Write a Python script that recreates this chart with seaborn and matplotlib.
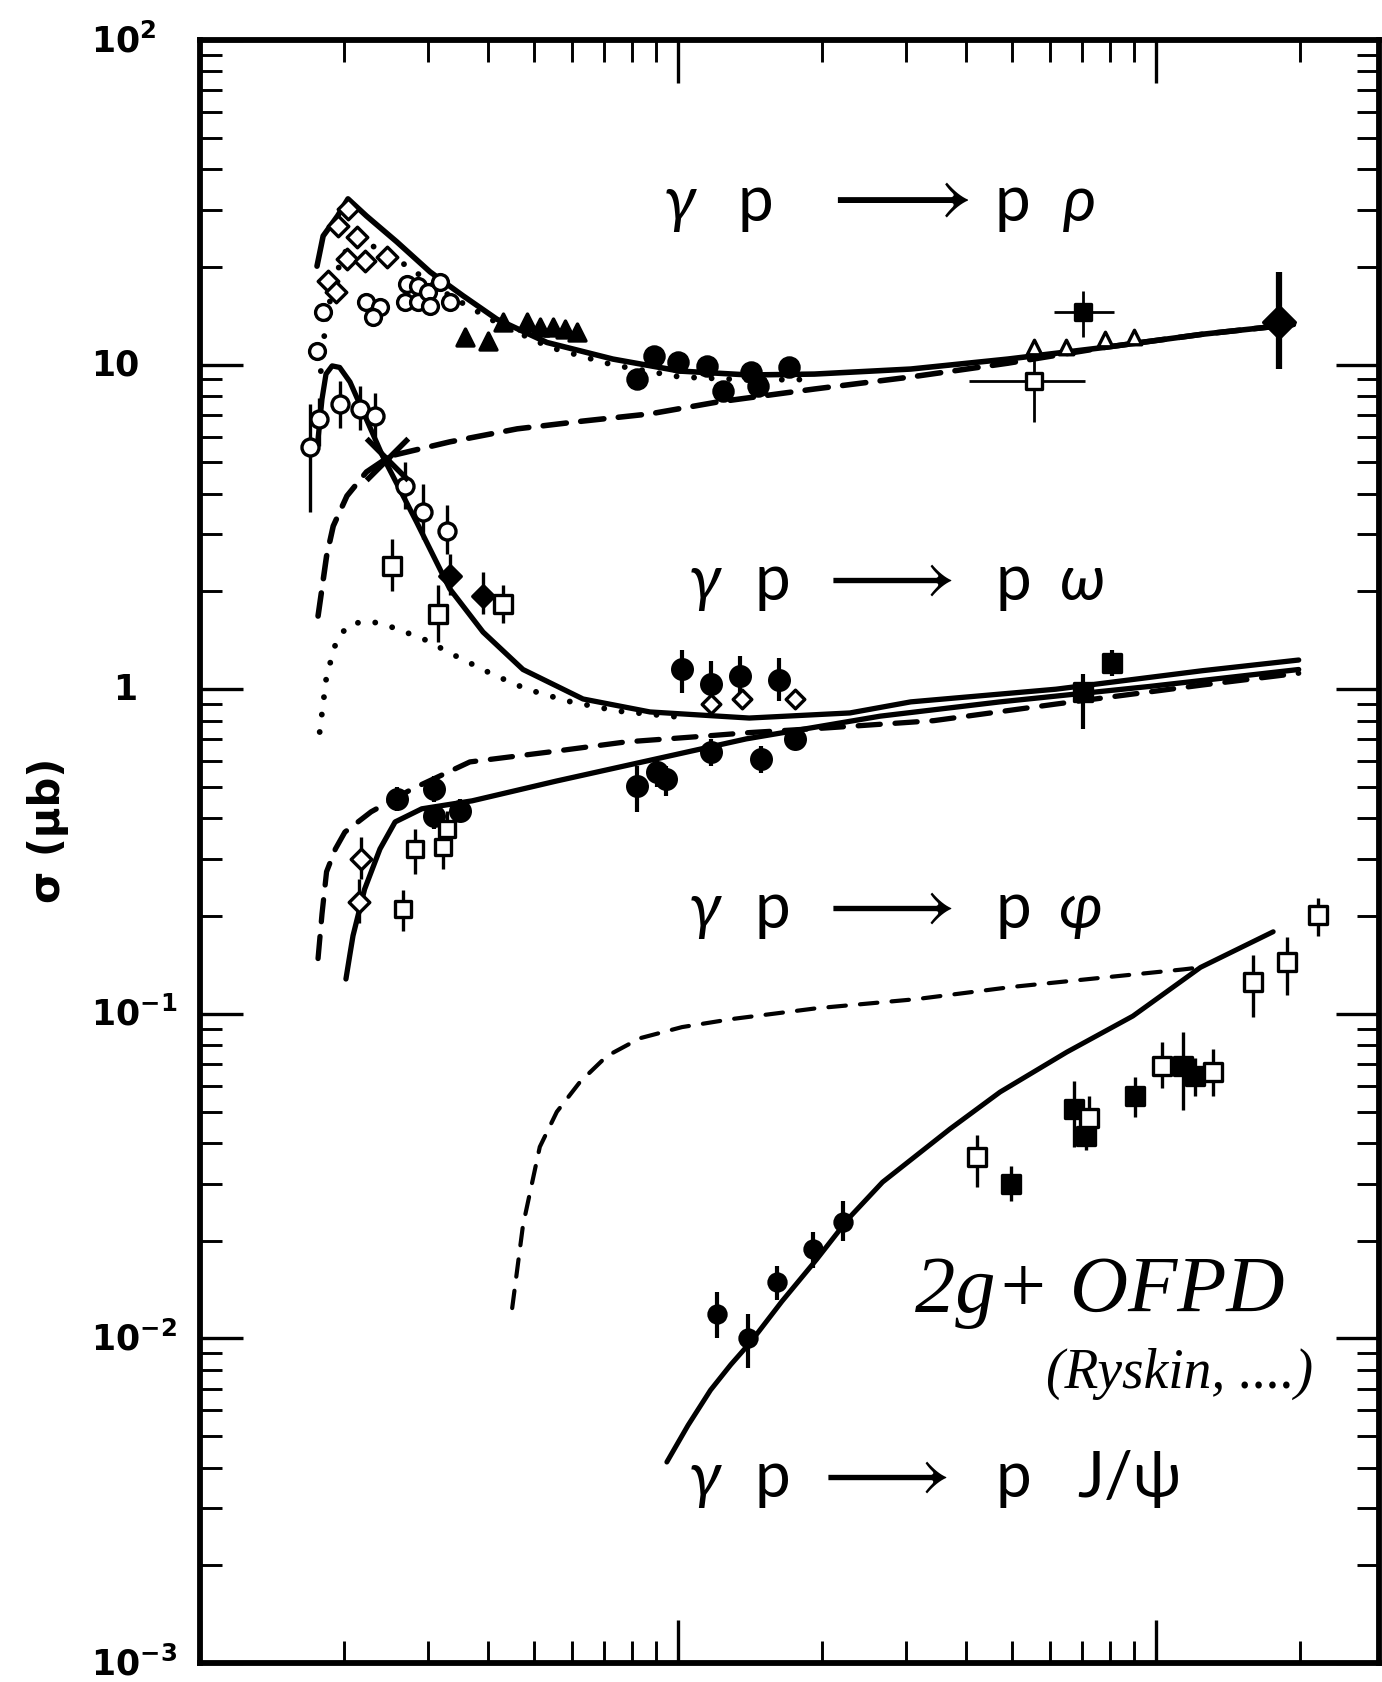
import numpy as np
import matplotlib
matplotlib.use("Agg")
import matplotlib.pyplot as plt
import matplotlib.transforms as mtransforms
from matplotlib.ticker import LogLocator, NullFormatter, FixedLocator
import seaborn as sns

# ---- model curves: W (GeV) vs sigma (microbarn) ----
rho_solid_w = [1.757, 1.81, 1.94, 2.04, 2.23, 2.58, 3.03, 3.55, 4.18, 5.32, 7.31, 10.1, 14.1, 19.3, 30.7, 49.0, 78.2, 125, 194]
rho_solid_s = [20.1, 24.9, 28.7, 32.4, 28.7, 23.9, 19.3, 16.3, 13.8, 11.7, 10.4, 9.55, 9.29, 9.35, 9.69, 10.4, 11.3, 12.4, 13.3]

rho_dot_w = [1.79, 1.826, 1.89, 1.99, 2.16, 2.62, 3.33, 4.24, 5.40, 7.31, 10.1, 14.1, 19.3]
rho_dot_s = [9.55, 12.9, 17.1, 21.9, 24.4, 20.8, 16.3, 13.3, 11.3, 9.98, 9.16, 8.97, 9.0]

rho_dash_w = [1.766, 1.84, 1.90, 2.03, 2.23, 2.50, 3.33, 4.61, 6.33, 8.74, 12.1, 19.3, 30.7, 49.0, 78.2, 125, 194]
rho_dash_s = [1.68, 2.57, 3.18, 3.94, 4.67, 5.23, 5.78, 6.34, 6.70, 7.05, 7.67, 8.41, 9.16, 10.1, 11.3, 12.4, 13.3]

om_solid_w = [1.766, 1.80, 1.835, 1.89, 1.96, 2.06, 2.41, 2.84, 3.33, 3.91, 4.74, 6.33, 8.74, 14.1, 22.9, 30.7, 61.8, 125, 199]
om_solid_s = [5.90, 7.83, 9.35, 9.91, 9.8, 8.84, 5.23, 3.27, 2.04, 1.50, 1.15, 0.933, 0.851, 0.815, 0.845, 0.914, 1.00, 1.14, 1.23]

om_dot_w = [1.78, 1.84, 1.935, 2.06, 2.27, 2.50, 2.93, 3.45, 4.10, 4.83, 5.86, 7.45, 10.1]
om_dot_s = [0.738, 1.10, 1.43, 1.59, 1.62, 1.56, 1.43, 1.26, 1.11, 1.00, 0.920, 0.857, 0.820]

phi_solid_w = [2.02, 2.06, 2.09, 2.21, 2.38, 2.56, 2.91, 3.71, 5.56, 8.05, 13.9, 26.5, 47.2, 97.1, 199]
phi_solid_s = [0.128, 0.153, 0.174, 0.242, 0.322, 0.390, 0.428, 0.453, 0.521, 0.588, 0.703, 0.826, 0.914, 1.02, 1.15]

phi_dash_w = [1.766, 1.80, 1.84, 1.92, 2.01, 2.28, 2.78, 3.67, 5.40, 7.78, 11.1, 14.1, 20.5, 34.3, 61.8, 125, 199]
phi_dash_s = [0.148, 0.203, 0.274, 0.322, 0.363, 0.419, 0.493, 0.597, 0.641, 0.688, 0.715, 0.735, 0.76, 0.80, 0.90, 1.03, 1.12]

jpsi_solid_w = [9.48, 10.5, 11.7, 12.9, 14.2, 16.5, 19.5, 22.8, 26.8, 37.1, 47.2, 65.1, 89.5, 124, 176]
jpsi_solid_s = [0.00416, 0.00540, 0.00693, 0.00830, 0.00975, 0.0130, 0.0175, 0.0235, 0.0303, 0.0442, 0.0574, 0.0762, 0.0984, 0.139, 0.179]

jpsi_dash_w = [4.50, 4.74, 5.14, 5.58, 6.24, 7.10, 8.33, 10.2, 13.0, 19.5, 31.6, 50.0, 114, 124]
jpsi_dash_s = [0.0124, 0.0223, 0.0389, 0.0499, 0.0617, 0.0741, 0.0841, 0.0910, 0.0964, 0.104, 0.111, 0.121, 0.137, 0.139]

# ---- data points ----
rho_od_w = [2.04, 1.94, 2.13, 2.03, 2.21, 2.46, 1.85, 1.93]
rho_od_s = [30.2, 26.7, 24.7, 21.1, 20.8, 21.4, 18.1, 16.7]
rho_oc_w = [2.23, 2.38, 2.30, 2.71, 2.86, 2.69, 2.86, 3.00, 3.03, 3.18, 3.33, 1.81, 1.76]
rho_oc_s = [15.6, 15.0, 14.0, 17.7, 17.5, 15.6, 15.6, 16.7, 15.2, 18.0, 15.6, 14.5, 11.0]
rho_ft_w = [3.58, 4.00, 4.30, 4.83, 5.14, 5.47, 5.80, 6.15]
rho_ft_s = [12.2, 11.8, 13.5, 13.5, 13.1, 13.1, 12.9, 12.6]
rho_fc_w = [8.20, 8.91, 10.0, 11.5, 12.4, 14.2, 14.7, 17.1]
rho_fc_s = [9.04, 10.6, 10.2, 9.9, 8.30, 9.48, 8.59, 9.84]
rho_ot_w = [55.6, 64.8, 78.2, 89.9]
rho_ot_s = [11.3, 11.3, 12.0, 12.2]
rho_fs_w, rho_fs_s = [70.3], [14.5]
rho_fs_xlo, rho_fs_xhi, rho_fs_lo, rho_fs_hi = [61.2], [81.7], [12.2], [16.9]
rho_os_w, rho_os_s = [55.6], [8.91]
rho_os_xlo, rho_os_xhi, rho_os_lo, rho_os_hi = [40.6], [71.0], [6.65], [10.4]
rho_hera_w, rho_hera_s, rho_hera_lo, rho_hera_hi = [181], [13.5], [9.69], [19.3]

om_oc_w = [1.70, 1.77, 1.96, 2.16, 2.32, 2.68, 2.93, 3.29]
om_oc_s = [5.57, 6.79, 7.56, 7.30, 6.95, 4.22, 3.51, 3.07]
om_oc_lo = [3.51, 5.6, 6.4, 6.3, 6.0, 3.6, 2.9, 2.6]
om_oc_hi = [7.56, 7.9, 8.9, 8.6, 8.2, 5.0, 4.3, 3.7]
om_os_w = [2.52, 3.15, 4.30]
om_os_s = [2.40, 1.71, 1.83]
om_os_lo = [2.0, 1.4, 1.6]
om_os_hi = [2.9, 2.1, 2.1]
om_fc_w = [3.33, 3.91]
om_fc_s = [2.23, 1.94]
om_fc_lo = [1.95, 1.7]
om_fc_hi = [2.6, 2.3]
om_x_w, om_x_s = [2.46], [5.12]
om_he_w = [10.2, 11.7, 13.5, 16.3]
om_he_s = [1.15, 1.04, 1.10, 1.07]
om_he_lo = [0.97, 0.88, 0.95, 0.92]
om_he_hi = [1.32, 1.22, 1.27, 1.25]
om_od_w = [11.7, 13.6, 17.6]
om_od_s = [0.90, 0.933, 0.933]
om_hera_w, om_hera_s, om_hera_lo, om_hera_hi = [70.3, 80.9], [0.98, 1.20], [0.753, 1.10], [1.11, 1.32]

phi_fc_w = [8.21, 9.04, 9.44, 11.7, 14.9, 17.6, 3.09, 3.50, 2.58, 3.09]
phi_fc_s = [0.504, 0.556, 0.528, 0.641, 0.610, 0.703, 0.406, 0.421, 0.459, 0.493]
phi_fc_lo = [0.419, 0.50, 0.47, 0.58, 0.55, 0.65, 0.37, 0.39, 0.42, 0.45]
phi_fc_hi = [0.579, 0.61, 0.58, 0.70, 0.67, 0.76, 0.44, 0.46, 0.50, 0.54]
phi_od_w = [2.17, 2.15]
phi_od_s = [0.300, 0.221]
phi_od_lo = [0.26, 0.19]
phi_od_hi = [0.35, 0.26]
phi_os_w = [2.66, 2.82, 3.22, 3.29]
phi_os_s = [0.210, 0.322, 0.327, 0.371]
phi_os_lo = [0.18, 0.27, 0.28, 0.33]
phi_os_hi = [0.24, 0.37, 0.37, 0.42]

jpsi_fc_w = [12.1, 14.0, 16.1, 19.2, 22.1]
jpsi_fc_s = [0.0119, 0.0100, 0.0149, 0.0188, 0.0228]
jpsi_fc_lo = [0.0100, 0.0081, 0.0131, 0.0165, 0.0200]
jpsi_fc_hi = [0.0139, 0.0119, 0.0167, 0.0213, 0.0265]
jpsi_fs_w = [49.7, 67.4, 71.5, 90.4, 114, 121]
jpsi_fs_s = [0.0299, 0.0509, 0.0421, 0.0558, 0.0690, 0.0643]
jpsi_fs_lo = [0.0265, 0.0389, 0.0380, 0.0480, 0.0506, 0.0560]
jpsi_fs_hi = [0.0340, 0.0622, 0.0470, 0.0640, 0.0880, 0.0730]
jpsi_os_w = [42.2, 72.4, 103, 132, 160, 188, 218]
jpsi_os_s = [0.0362, 0.0478, 0.0690, 0.0662, 0.125, 0.144, 0.201]
jpsi_os_lo = [0.0292, 0.0400, 0.0590, 0.0560, 0.0977, 0.114, 0.174]
jpsi_os_hi = [0.0424, 0.0560, 0.0820, 0.0780, 0.152, 0.172, 0.228]

y_tick_vals = [1e2, 10, 1, 1e-1, 1e-2, 1e-3]
y_tick_labels = [r"$\mathbf{10^{2}}$", "10", "1", r"$\mathbf{10^{-1}}$", r"$\mathbf{10^{-2}}$", r"$\mathbf{10^{-3}}$"]

sns.set_theme(style="ticks")
plt.rcParams["font.family"] = ["DejaVu Sans"]
plt.rcParams["mathtext.fontset"] = "dejavusans"
plt.rcParams["text.color"] = "black"

W, H = 1382, 1683
fig = plt.figure(figsize=(W / 100, H / 100), dpi=100)
ax = fig.add_axes([200 / W, 19 / H, 1179 / W, 1623 / H])
ax.set_xscale("log")
ax.set_yscale("log")


def curve(w, s, lw, ls="-"):
    sns.lineplot(x=w, y=s, ax=ax, color="black", linewidth=lw, linestyle=ls,
                 sort=False, estimator=None, legend=False,
                 dash_capstyle="round", solid_capstyle="round",
                 solid_joinstyle="round", zorder=2)


def pts(w, s, marker, size, filled, lw=2.4):
    sns.scatterplot(x=w, y=s, ax=ax, marker=marker, s=size,
                    color="black" if filled else "white", edgecolor="black",
                    linewidth=lw, zorder=4, legend=False)


def bars(w, s, lo, hi, xlo=None, xhi=None, lw=2.4):
    yerr = [np.subtract(s, lo), np.subtract(hi, s)]
    xerr = None
    if xlo is not None:
        xerr = [np.subtract(w, xlo), np.subtract(xhi, w)]
    ax.errorbar(w, s, yerr=yerr, xerr=xerr, fmt="none", ecolor="black",
                elinewidth=lw, capsize=0, zorder=3)


# curves
curve(rho_solid_w, rho_solid_s, 4.0)
curve(rho_dot_w, rho_dot_s, 4.2, (0, (0.01, 3.0)))
curve(rho_dash_w, rho_dash_s, 4.0, (0, (4.2, 2.6)))
curve(om_solid_w, om_solid_s, 3.8)
curve(om_dot_w, om_dot_s, 4.2, (0, (0.01, 3.0)))
curve(phi_solid_w, phi_solid_s, 3.8)
curve(phi_dash_w, phi_dash_s, 3.8, (0, (4.2, 2.8)))
curve(jpsi_solid_w, jpsi_solid_s, 3.6)
curve(jpsi_dash_w, jpsi_dash_s, 3.0, (0, (4.2, 3.4)))

# rho points
pts(rho_od_w, rho_od_s, "D", 110, False)
pts(rho_oc_w, rho_oc_s, "o", 130, False)
pts(rho_ft_w, rho_ft_s, "^", 150, True)
pts(rho_fc_w, rho_fc_s, "o", 190, True)
pts(rho_ot_w, rho_ot_s, "^", 110, False)
bars(rho_fs_w, rho_fs_s, rho_fs_lo, rho_fs_hi, rho_fs_xlo, rho_fs_xhi, lw=2.0)
pts(rho_fs_w, rho_fs_s, "s", 140, True)
bars(rho_os_w, rho_os_s, rho_os_lo, rho_os_hi, rho_os_xlo, rho_os_xhi, lw=2.0)
pts(rho_os_w, rho_os_s, "s", 120, False)
bars(rho_hera_w, rho_hera_s, rho_hera_lo, rho_hera_hi, lw=4.5)
pts(rho_hera_w, rho_hera_s, "D", 260, True)

# omega points
bars(om_oc_w, om_oc_s, om_oc_lo, om_oc_hi)
pts(om_oc_w, om_oc_s, "o", 150, False)
bars(om_os_w, om_os_s, om_os_lo, om_os_hi)
pts(om_os_w, om_os_s, "s", 150, False)
bars(om_fc_w, om_fc_s, om_fc_lo, om_fc_hi)
pts(om_fc_w, om_fc_s, "D", 120, True)
pts(om_x_w, om_x_s, "x", 900, True, lw=4.0)
bars(om_he_w, om_he_s, om_he_lo, om_he_hi, lw=3.0)
pts(om_he_w, om_he_s, "o", 200, True)
pts(om_od_w, om_od_s, "D", 90, False)
bars(om_hera_w, om_hera_s, om_hera_lo, om_hera_hi, lw=3.0)
pts(om_hera_w, om_hera_s, "s", 160, True)

# phi points
bars(phi_fc_w, phi_fc_s, phi_fc_lo, phi_fc_hi, lw=3.0)
pts(phi_fc_w, phi_fc_s, "o", 200, True)
bars(phi_od_w, phi_od_s, phi_od_lo, phi_od_hi)
pts(phi_od_w, phi_od_s, "D", 110, False)
bars(phi_os_w, phi_os_s, phi_os_lo, phi_os_hi)
pts(phi_os_w, phi_os_s, "s", 130, False)

# J/psi points
bars(jpsi_fc_w, jpsi_fc_s, jpsi_fc_lo, jpsi_fc_hi, lw=3.0)
pts(jpsi_fc_w, jpsi_fc_s, "o", 150, True)
bars(jpsi_fs_w, jpsi_fs_s, jpsi_fs_lo, jpsi_fs_hi)
pts(jpsi_fs_w, jpsi_fs_s, "s", 170, True)
bars(jpsi_os_w, jpsi_os_s, jpsi_os_lo, jpsi_os_hi)
pts(jpsi_os_w, jpsi_os_s, "s", 170, False)

# axes, ticks, frame
ax.set_xlim(1, 293)
ax.set_ylim(1e-3, 1e2)
ax.xaxis.set_major_locator(FixedLocator([1, 10, 100]))
ax.xaxis.set_minor_locator(LogLocator(base=10, subs=np.arange(2, 10), numticks=30))
ax.yaxis.set_major_locator(FixedLocator(y_tick_vals))
ax.yaxis.set_minor_locator(LogLocator(base=10, subs=np.arange(2, 10), numticks=30))
ax.xaxis.set_minor_formatter(NullFormatter())
ax.yaxis.set_minor_formatter(NullFormatter())
ax.tick_params(which="both", direction="in", top=True, right=True,
               labelbottom=False, labelleft=False, color="black")
ax.tick_params(which="major", length=31, width=2.4)
ax.tick_params(which="minor", length=16, width=2.1)
ax.set_xlabel("")
ax.set_ylabel("")
for sp in ax.spines.values():
    sp.set_linewidth(4.2)
    sp.set_color("black")

# y tick labels
ylab_tr = mtransforms.blended_transform_factory(fig.transFigure, ax.transData)
for val, lab in zip(y_tick_vals, y_tick_labels):
    if lab == "1":
        ax.text(137 / W, val, lab, transform=ylab_tr, ha="right", va="center",
                fontsize=25, fontweight="bold", color="black", clip_on=False)
    else:
        ax.text(91 / W, val, lab, transform=ylab_tr, ha="left", va="center",
                fontsize=25, fontweight="bold", color="black", clip_on=False)

fig.text(48 / W, 1 - 830 / H, "σ (μb)", rotation=90, ha="center", va="center",
         fontsize=30, fontweight="bold", color="black")

# reaction labels: (text, x centre in px, italic?)
thin = ["Lato", "DejaVu Sans"]


def reaction(parts, base_px):
    for txt, xc, it in parts:
        fig.text(xc / W, 1 - base_px / H, txt, ha="center", va="baseline",
                 fontsize=46, family=thin, fontweight="normal", color="black",
                 style="italic" if it else "normal")


def arrow(xc, base_px, size=58):
    fig.text(xc / W, 1 - base_px / H, r"$\longrightarrow$", ha="center",
             va="baseline", fontsize=size, math_fontfamily="stix", color="black")


reaction([("γ", 680, True), ("p", 755, False), ("p", 1012, False), ("ρ", 1080, True)], 221)
arrow(895, 221, 64)
reaction([("γ", 705, True), ("p", 772, False), ("p", 1013, False), ("ω", 1083, True)], 600)
arrow(885, 600)
reaction([("γ", 705, True), ("p", 772, False), ("p", 1013, False), ("φ", 1080, True)], 928)
arrow(885, 928)
reaction([("γ", 705, True), ("p", 772, False), ("p", 1013, False), ("J/ψ", 1129, False)], 1497)
arrow(880, 1497)

fig.text(915 / W, 1 - 1312 / H, "2g+ OFPD", ha="left", va="baseline", color="black",
         fontsize=58, family=["Liberation Serif", "DejaVu Serif"], style="italic")
fig.text(1046 / W, 1 - 1388 / H, "(Ryskin, ....)", ha="left", va="baseline", color="black",
         fontsize=40, family=["Liberation Serif", "DejaVu Serif"], style="italic")

fig.savefig("out.png", dpi=100)
